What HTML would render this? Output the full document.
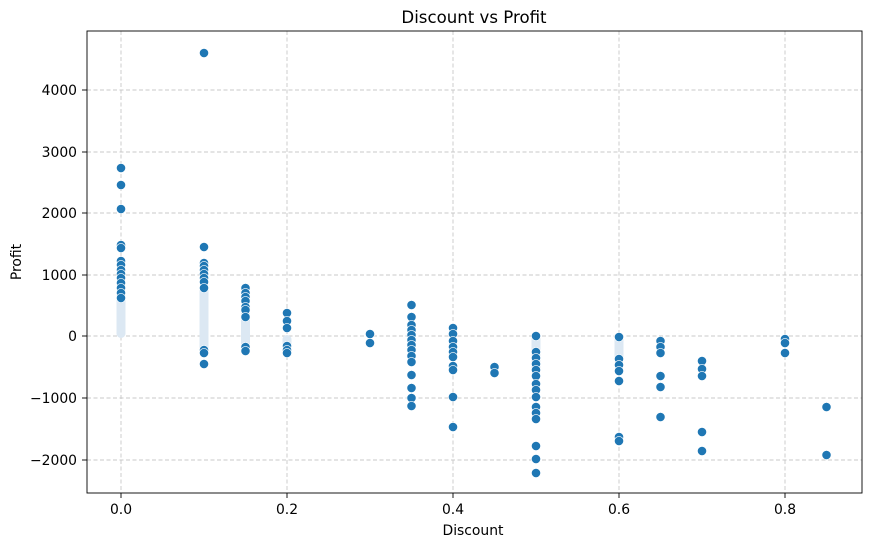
<!DOCTYPE html>
<html><head><meta charset="utf-8"><style>body{margin:0;background:#fff}svg{display:block}</style></head><body>
<svg width="871" height="547" xmlns="http://www.w3.org/2000/svg" font-family="DejaVu Sans, Liberation Sans, sans-serif">
<rect width="871" height="547" fill="#fff"/>
<g stroke="#c8c8c8" stroke-width="0.9" stroke-dasharray="4,2.5">
<line x1="121" y1="31" x2="121" y2="493"/><line x1="287" y1="31" x2="287" y2="493"/><line x1="453" y1="31" x2="453" y2="493"/><line x1="619" y1="31" x2="619" y2="493"/><line x1="785" y1="31" x2="785" y2="493"/>
<line x1="87" y1="90" x2="862" y2="90"/><line x1="87" y1="152" x2="862" y2="152"/><line x1="87" y1="213" x2="862" y2="213"/><line x1="87" y1="275" x2="862" y2="275"/><line x1="87" y1="336" x2="862" y2="336"/><line x1="87" y1="398" x2="862" y2="398"/><line x1="87" y1="460" x2="862" y2="460"/>
</g>
<g fill="#dce8f3">
<rect x="116.5" y="290" width="9" height="48" rx="4.5"/>
<rect x="199.5" y="285" width="9" height="68" rx="4.5"/>
<rect x="241" y="310" width="9" height="42" rx="4.5"/>
<rect x="282.5" y="335" width="9" height="20" rx="4.5"/>
<rect x="531.5" y="333" width="9" height="40" rx="4.5"/>
<rect x="614.5" y="333" width="9" height="30" rx="4.5"/>
</g>
<g fill="#1f77b4" stroke="#fff" stroke-width="0.6">
<circle cx="121" cy="168" r="4.6"/><circle cx="121" cy="185" r="4.6"/><circle cx="121" cy="209" r="4.6"/><circle cx="121" cy="245" r="4.6"/><circle cx="121" cy="248" r="4.6"/><circle cx="121" cy="261" r="4.6"/><circle cx="121" cy="265" r="4.6"/><circle cx="121" cy="270" r="4.6"/><circle cx="121" cy="274" r="4.6"/><circle cx="121" cy="278" r="4.6"/><circle cx="121" cy="283" r="4.6"/><circle cx="121" cy="288" r="4.6"/><circle cx="121" cy="293" r="4.6"/><circle cx="121" cy="298" r="4.6"/>
<circle cx="204" cy="53" r="4.6"/><circle cx="204" cy="247" r="4.6"/><circle cx="204" cy="263" r="4.6"/><circle cx="204" cy="266" r="4.6"/><circle cx="204" cy="270" r="4.6"/><circle cx="204" cy="274" r="4.6"/><circle cx="204" cy="278" r="4.6"/><circle cx="204" cy="282" r="4.6"/><circle cx="204" cy="288" r="4.6"/><circle cx="204" cy="350" r="4.6"/><circle cx="204" cy="353" r="4.6"/><circle cx="204" cy="364" r="4.6"/>
<circle cx="245.5" cy="288" r="4.6"/><circle cx="245.5" cy="293" r="4.6"/><circle cx="245.5" cy="297" r="4.6"/><circle cx="245.5" cy="301" r="4.6"/><circle cx="245.5" cy="307" r="4.6"/><circle cx="245.5" cy="310" r="4.6"/><circle cx="245.5" cy="317" r="4.6"/><circle cx="245.5" cy="347" r="4.6"/><circle cx="245.5" cy="351" r="4.6"/>
<circle cx="287" cy="313" r="4.6"/><circle cx="287" cy="321" r="4.6"/><circle cx="287" cy="328" r="4.6"/><circle cx="287" cy="346" r="4.6"/><circle cx="287" cy="350" r="4.6"/><circle cx="287" cy="353" r="4.6"/>
<circle cx="370" cy="334" r="4.6"/><circle cx="370" cy="343" r="4.6"/>
<circle cx="411.5" cy="305" r="4.6"/><circle cx="411.5" cy="317" r="4.6"/><circle cx="411.5" cy="325" r="4.6"/><circle cx="411.5" cy="330" r="4.6"/><circle cx="411.5" cy="335" r="4.6"/><circle cx="411.5" cy="340" r="4.6"/><circle cx="411.5" cy="345" r="4.6"/><circle cx="411.5" cy="350" r="4.6"/><circle cx="411.5" cy="356" r="4.6"/><circle cx="411.5" cy="362" r="4.6"/><circle cx="411.5" cy="375" r="4.6"/><circle cx="411.5" cy="388" r="4.6"/><circle cx="411.5" cy="398" r="4.6"/><circle cx="411.5" cy="406" r="4.6"/>
<circle cx="453" cy="328" r="4.6"/><circle cx="453" cy="334" r="4.6"/><circle cx="453" cy="341" r="4.6"/><circle cx="453" cy="347" r="4.6"/><circle cx="453" cy="352" r="4.6"/><circle cx="453" cy="357" r="4.6"/><circle cx="453" cy="366" r="4.6"/><circle cx="453" cy="370" r="4.6"/><circle cx="453" cy="397" r="4.6"/><circle cx="453" cy="427" r="4.6"/>
<circle cx="494.5" cy="367" r="4.6"/><circle cx="494.5" cy="373" r="4.6"/>
<circle cx="536" cy="336" r="4.6"/><circle cx="536" cy="352" r="4.6"/><circle cx="536" cy="358" r="4.6"/><circle cx="536" cy="364" r="4.6"/><circle cx="536" cy="370" r="4.6"/><circle cx="536" cy="376" r="4.6"/><circle cx="536" cy="384" r="4.6"/><circle cx="536" cy="390" r="4.6"/><circle cx="536" cy="397" r="4.6"/><circle cx="536" cy="407" r="4.6"/><circle cx="536" cy="413" r="4.6"/><circle cx="536" cy="419" r="4.6"/><circle cx="536" cy="446" r="4.6"/><circle cx="536" cy="459" r="4.6"/><circle cx="536" cy="473" r="4.6"/>
<circle cx="619" cy="337" r="4.6"/><circle cx="619" cy="359" r="4.6"/><circle cx="619" cy="365" r="4.6"/><circle cx="619" cy="371" r="4.6"/><circle cx="619" cy="381" r="4.6"/><circle cx="619" cy="437" r="4.6"/><circle cx="619" cy="441" r="4.6"/>
<circle cx="660.5" cy="341" r="4.6"/><circle cx="660.5" cy="347" r="4.6"/><circle cx="660.5" cy="353" r="4.6"/><circle cx="660.5" cy="376" r="4.6"/><circle cx="660.5" cy="387" r="4.6"/><circle cx="660.5" cy="417" r="4.6"/>
<circle cx="702" cy="361" r="4.6"/><circle cx="702" cy="369" r="4.6"/><circle cx="702" cy="376" r="4.6"/><circle cx="702" cy="432" r="4.6"/><circle cx="702" cy="451" r="4.6"/>
<circle cx="785" cy="339" r="4.6"/><circle cx="785" cy="343" r="4.6"/><circle cx="785" cy="353" r="4.6"/>
<circle cx="826.5" cy="407" r="4.6"/><circle cx="826.5" cy="455" r="4.6"/>
</g>
<rect x="87" y="31" width="775" height="462" fill="none" stroke="#000" stroke-width="0.9"/>
<g stroke="#000" stroke-width="0.9">
<line x1="121" y1="493" x2="121" y2="498"/><line x1="287" y1="493" x2="287" y2="498"/><line x1="453" y1="493" x2="453" y2="498"/><line x1="619" y1="493" x2="619" y2="498"/><line x1="785" y1="493" x2="785" y2="498"/>
<line x1="82" y1="90" x2="87" y2="90"/><line x1="82" y1="152" x2="87" y2="152"/><line x1="82" y1="213" x2="87" y2="213"/><line x1="82" y1="275" x2="87" y2="275"/><line x1="82" y1="336" x2="87" y2="336"/><line x1="82" y1="398" x2="87" y2="398"/><line x1="82" y1="460" x2="87" y2="460"/>
</g>
<g font-size="13.9" fill="#000" text-anchor="middle">
<text x="121" y="514">0.0</text><text x="287" y="514">0.2</text><text x="453" y="514">0.4</text><text x="619" y="514">0.6</text><text x="785" y="514">0.8</text>
<text x="473" y="535">Discount</text>
</g>
<g font-size="13.9" fill="#000" text-anchor="end">
<text x="77" y="95">4000</text><text x="77" y="157">3000</text><text x="77" y="218">2000</text><text x="77" y="280">1000</text><text x="77" y="341">0</text><text x="77" y="403">−1000</text><text x="77" y="465">−2000</text>
</g>
<text x="21" y="262" font-size="13.9" text-anchor="middle" transform="rotate(-90 21 262)">Profit</text>
<text x="474" y="23" font-size="16.6" text-anchor="middle">Discount vs Profit</text>
</svg>
</body></html>
